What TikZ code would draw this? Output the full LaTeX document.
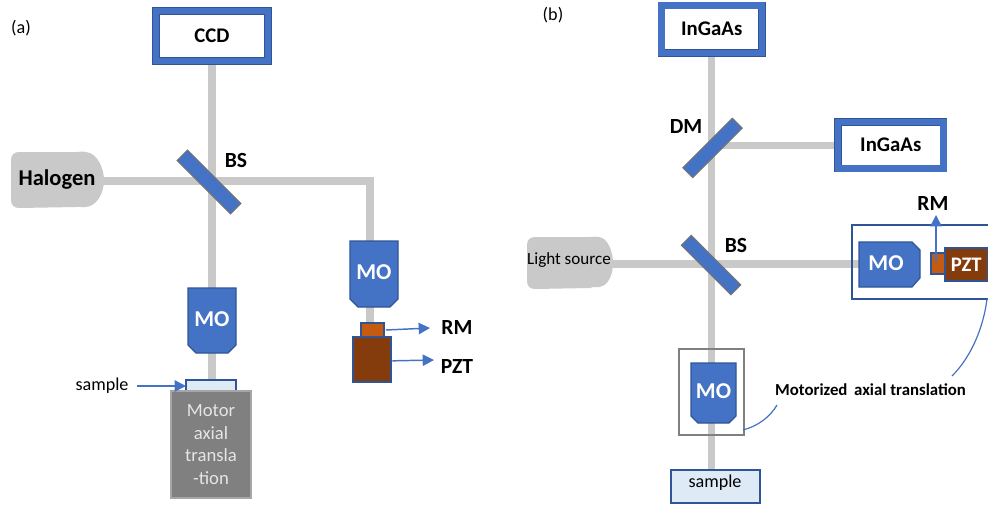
\documentclass[tikz,border=0pt]{standalone}
\usepackage{fontspec}
\setmainfont{Carlito}
\usetikzlibrary{arrows.meta,backgrounds}
\definecolor{beamc}{HTML}{C9C9C9}
\definecolor{bluef}{HTML}{4472C4}
\definecolor{blued}{HTML}{2F5597}
\definecolor{rmc}{HTML}{C55A11}
\definecolor{pztc}{HTML}{843C0C}
\definecolor{samplec}{HTML}{DEEBF7}
\tikzset{
  x=0.75pt,y=-0.75pt,
  bx/.style={inner sep=0pt,outer sep=0pt},
  cam/.style={draw=blued,line width=.55pt,double=bluef,double distance=4.6pt,fill=white,font=\fontsize{15.6}{18}\selectfont\bfseries,text=black},
  beam/.style={draw=beamc,line width=5.4pt},
  mirror/.style={draw=black!55,line width=.8pt,fill=bluef,inner sep=0pt,outer sep=0pt},
  mopoly/.style={draw=blued,line width=.9pt,fill=bluef},
  motext/.style={text=white,font=\fontsize{17}{19}\selectfont\bfseries,inner sep=0pt},
  rmbox/.style={draw=blued,line width=1pt,fill=rmc},
  pztbox/.style={draw=blued,line width=1pt,fill=pztc},
  samplebox/.style={draw=blued,line width=1pt,fill=samplec},
  lamp/.style={fill=beamc},
  lab/.style={font=\fontsize{16.2}{18}\selectfont\bfseries,inner sep=0pt,text=black},
  txt/.style={font=\fontsize{13.6}{16}\selectfont,inner sep=0pt,text=black},
  note/.style={draw=bluef,line width=1.1pt,-{Triangle[length=8.5pt,width=8.5pt]}},
  leader/.style={draw=bluef,line width=.9pt},
}
\newcommand{\bx}[7]{\node[bx,#6,minimum width={(#4-#2)*0.75pt},minimum height={(#5-#3)*0.75pt}] (#1) at ({(#2+#4)/2},{(#3+#5)/2}) {#7};}
% vertical objective: name x1 y1 x2 y2 ychamfer xinset
\newcommand{\mov}[7]{\path[mopoly] (#2,#3) -- (#4,#3) -- (#4,#6) -- ({#4-#7},#5) -- ({#2+#7},#5) -- (#2,#6) -- cycle;
  \node[motext] (#1) at ({(#2+#4)/2},{(#3+#5)/2-1.5}) {MO};}
\begin{document}
\begin{tikzpicture}
\useasboundingbox (0,0) rectangle (988,504);
% ---- panel a
\node[txt] (pa) at (21,28) {(a)};
\bx{ccd}{156}{11}{268}{61}{cam}{CCD}
\path[lamp] (19,152) -- (76,152) .. controls (80,152) and (82,151) .. (86,152) .. controls (97,153) and (104,168) .. (104,180) .. controls (104,193) and (97,206) .. (86,207) .. controls (82,208) and (80,206) .. (76,207) -- (19,208) .. controls (14,208) and (11,205) .. (11,200) -- (11,160) .. controls (11,155) and (14,152) .. (19,152) -- cycle;
\node[lab,font=\fontsize{16.9}{19}\selectfont\bfseries] (halogen) at (57,179) {Halogen};
\coordinate (halogenE) at (103,181);
\node[mirror,rotate=-45,minimum width=56.5pt,minimum height=11pt] (bsa) at (209,182) {};
\node[lab] (bsal) at (236,160) {BS};
\mov{moa}{188}{288}{236}{353}{345}{8}
\mov{mob}{350}{241}{398}{307}{299}{8}
\coordinate (corner) at (370,181);
\bx{samplea}{186}{380}{236}{392}{samplebox}{}
\bx{motor}{171}{391}{251}{498}{draw=black!35,line width=1pt,fill=black!50,text=white!90!black,font=\fontsize{14}{16.8}\selectfont,align=center}{Motor\\axial\\transla\\-tion}
\node[txt] (samplel) at (102,386) {sample};
\bx{rma}{361}{323}{384}{337}{rmbox}{}
\bx{pzta}{353}{337}{391}{382}{pztbox}{}
\node[lab] (rmal) at (457,327) {RM};
\node[lab] (pztal) at (457,366) {PZT};
\coordinate (rmaT) at (430,328);
\coordinate (pztaT) at (434,360);
\coordinate (sampleS) at (137,386);
\draw[note] (sampleS) -- (samplea.west);
\draw[note] ([xshift=1.5pt]rma.east) -- (rmaT);
\draw[note] ([xshift=1pt,yshift=-1pt]pzta.east) -- (pztaT);
% ---- panel b
\node[txt] (pb) at (553,15) {(b)};
\bx{inga}{661.5}{5.5}{762}{53}{cam}{InGaAs}
\bx{ingb}{838}{122}{943.5}{168.5}{cam}{InGaAs}
\node[mirror,rotate=45,minimum width=52.5pt,minimum height=10.5pt] (dm) at (712.5,148) {};
\node[lab] (dml) at (686,126) {DM};
\node[mirror,rotate=-45,minimum width=52.5pt,minimum height=10.5pt] (bsb) at (711,265) {};
\node[lab] (bsbl) at (736,245) {BS};
\path[lamp] (535,237) -- (590,237) .. controls (594,237) and (596,236) .. (599,237) .. controls (608,238) and (613,252) .. (613,263) .. controls (613,275) and (608,286) .. (599,287) .. controls (596,288) and (594,286) .. (590,288) -- (535,289) .. controls (530,289) and (527,286) .. (527,281) -- (527,245) .. controls (527,240) and (530,237) .. (535,237) -- cycle;
\node[txt,font=\fontsize{12.8}{15}\selectfont] (light) at (569,260) {Light source};
\coordinate (lightE) at (612,264);
% moving arm
\draw[draw=blued,line width=1pt] (988,225) -- (852,225) -- (852,299) -- (988,299);
\path[mopoly] (859,242) -- (912,242) -- (920,250) -- (920,278) -- (912,287) -- (859,287) -- cycle;
\node[motext] (moc) at (886,263) {MO};
\bx{rmb}{931}{253}{946}{274}{rmbox}{}
\bx{pztb}{945}{248}{987.5}{281}{pztbox,text=white,font=\fontsize{15.5}{17}\selectfont\bfseries}{PZT}
\node[lab] (rmbl) at (933,203) {RM};
\coordinate (rmbS) at (936,262);
\coordinate (rmbT) at (936,215);
\draw[note] (rmbS) -- (rmbT);
% fixed arm
\bx{grayb}{679}{349}{744}{435}{draw=black!50,line width=1pt}{}
\mov{mod}{691}{363}{736}{423}{416}{7}
\bx{sampleb}{671}{470}{760}{503}{samplebox}{}
\node[txt] (samplebl) at (715,482.5) {sample};
\node[lab,font=\fontsize{12.6}{15}\selectfont\bfseries] (motorized) at (870.5,390) {Motorized\, axial translation};
\coordinate (cA) at (743,430);
\coordinate (cB) at (777,405);
\coordinate (cC) at (987,299);
\coordinate (cD) at (952,376);
\draw[leader] (cA) .. controls (758,426) and (770,417) .. (cB);
\draw[leader] (cC) .. controls (983,330) and (970,358) .. (cD);
% ---- beams
\begin{scope}[on background layer]
\draw[beam] (ccd.south) -- (ccd.south |- samplea.north);
\draw[beam] (halogenE) -- (corner) -- (corner |- rma.north);
\draw[beam] (inga.south) -- (inga.south |- sampleb.north);
\draw[beam] (inga.south |- dm.center) |- (ingb.west);
\draw[beam] (lightE) -- (moc.west |- lightE);
\end{scope}
\end{tikzpicture}
\end{document}
